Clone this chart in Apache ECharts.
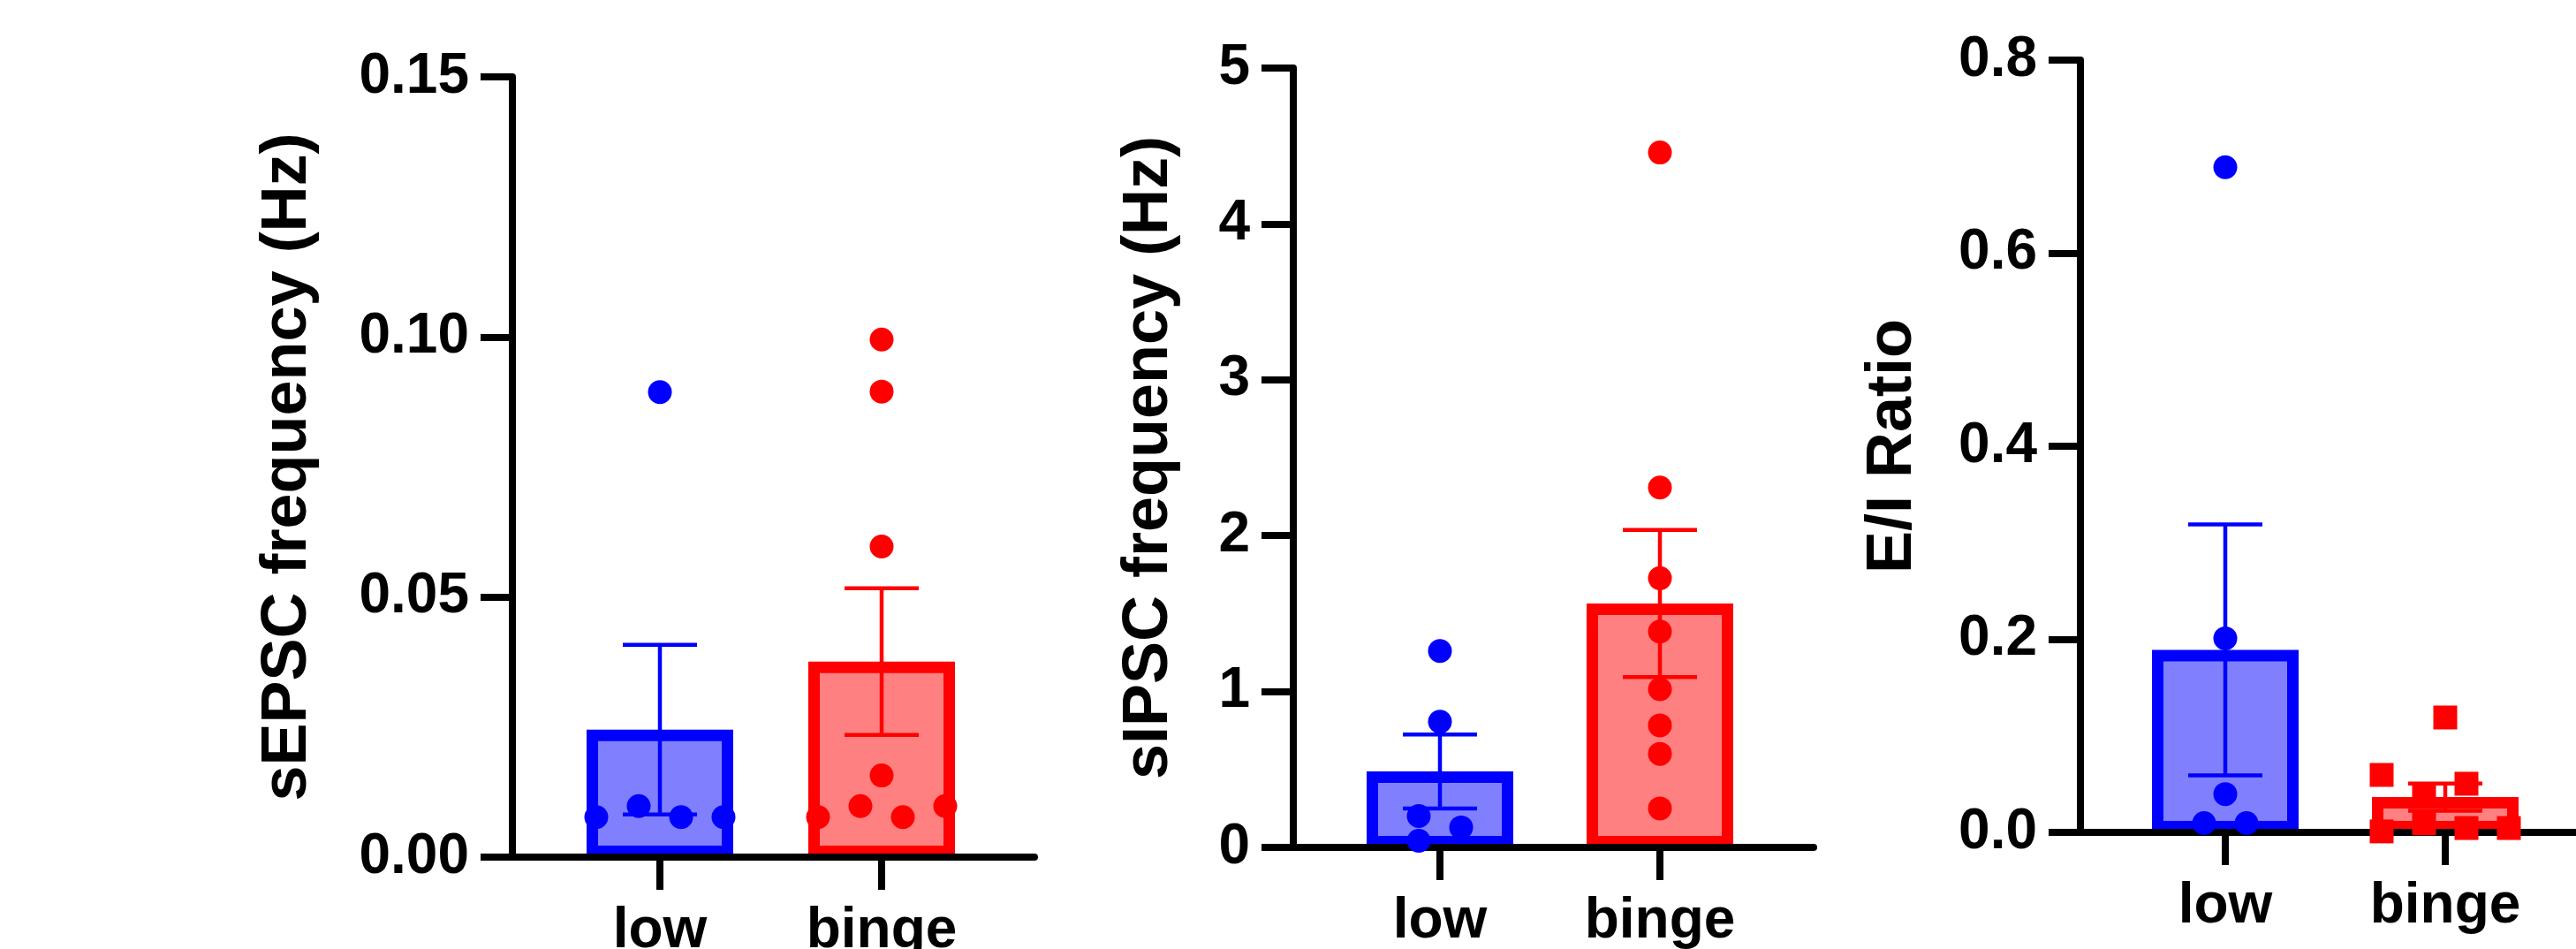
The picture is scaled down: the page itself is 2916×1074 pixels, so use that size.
<!DOCTYPE html>
<html>
<head>
<meta charset="utf-8">
<script src="https://cdn.jsdelivr.net/npm/echarts@6/dist/echarts.min.js"></script>
<style>
  html, body { margin: 0; padding: 0; background: #fff; }
  #chart { width: 2916px; height: 1074px; }
</style>
</head>
<body>
<div id="chart"></div>
<script>
const groups = ["low", "binge"];

// sEPSC frequency (Hz)
const sepscLow = [0.0894, 0.0077, 0.0098, 0.0077, 0.0077];
const sepscBinge = [0.0995, 0.0895, 0.0597, 0.0157, 0.0077, 0.0098, 0.0077, 0.0098];
const sepscMean = [0.0245, 0.0376];
const sepscSem = [0.0163, 0.0141];
const sepscTicks = [0, 0.05, 0.10, 0.15];

// sIPSC frequency (Hz)
const sipscLow = [1.26, 0.806, 0.201, 0.128, 0.0425];
const sipscBinge = [4.458, 2.309, 1.727, 1.385, 1.015, 0.783, 0.600, 0.250];
const sipscMean = [0.487, 1.565];
const sipscSem = [0.237, 0.472];
const sipscTicks = [0, 1, 2, 3, 4, 5];

// E/I ratio
const eiLow = [0.689, 0.201, 0.0397, 0.0096, 0.0096];
const eiBinge = [0.119, 0.0595, 0.038, 0.0504, 0.001, 0.0094, 0.0045, 0.0045];
const eiMean = [0.189, 0.0365];
const eiSem = [0.130, 0.014];
const eiTicks = [0, 0.2, 0.4, 0.6, 0.8];

const lines = ["#0000ff", "#ff0000"];
const fills = ["#8080ff", "#ff8080"];
const FONT = "'Liberation Sans', Arial, sans-serif";
const DOT = 27, STEP = 48, BAR_HALF = 83, BAR_LINE = 13, CAP_HALF = 42;

const panels = [
  { title: "sEPSC frequency (Hz)", pts: [sepscLow, sepscBinge], mean: sepscMean, sem: sepscSem, ticks: sepscTicks, digits: 2,
    left: 580, top: 87, width: 591, height: 883, first: 167, unit: 251, nameGap: 218, bingeSymbol: "circle" },
  { title: "sIPSC frequency (Hz)", pts: [sipscLow, sipscBinge], mean: sipscMean, sem: sipscSem, ticks: sipscTicks, digits: 0,
    left: 1464, top: 77, width: 589, height: 882, first: 166, unit: 249, nameGap: 127, bingeSymbol: "circle" },
  { title: "E/I Ratio", pts: [eiLow, eiBinge], mean: eiMean, sem: eiSem, ticks: eiTicks, digits: 1,
    left: 2355, top: 68, width: 561, height: 874, first: 164, unit: 249, nameGap: 176, bingeSymbol: "rect" }
];

// spread overlapping dots sideways, roughly like a column scatter
function swarm(vals, pxPerUnit) {
  const py = vals.map(v => v * pxPerUnit);
  const hit = (i, j) => Math.abs(py[i] - py[j]) < DOT;
  const order = vals.map((_, i) => i).sort((a, b) => py[a] - py[b]);
  const clusters = [];
  let cur = [order[0]];
  for (let k = 1; k < order.length; k++) {
    if (py[order[k]] - py[order[k - 1]] < 1.25 * DOT) cur.push(order[k]);
    else { clusters.push(cur); cur = [order[k]]; }
  }
  clusters.push(cur);
  const off = vals.map(() => 0);
  clusters.forEach(c => {
    const m = c.filter(i => c.some(j => j !== i && hit(i, j))).sort((a, b) => a - b);
    if (!m.length) return;
    for (let cols = 2; cols <= m.length; cols++) {
      const colOf = {};
      const ok = m.every(i => {
        for (let k = 0; k < cols; k++) {
          if (!m.some(j => colOf[j] === k && hit(i, j))) { colOf[i] = k; return true; }
        }
        return false;
      });
      if (ok) {
        m.forEach(i => { off[i] = (colOf[i] - (cols - 1) / 2) * STEP; });
        return;
      }
    }
  });
  return off;
}

function renderBar(params, api) {
  const top = api.coord([api.value(0), api.value(1)]);
  const base = api.coord([api.value(0), 0]);
  const i = params.dataIndex;
  const h = BAR_LINE / 2;
  return {
    type: "rect",
    shape: { x: top[0] - BAR_HALF + h, y: top[1] + h, width: 2 * BAR_HALF - BAR_LINE, height: base[1] - top[1] - BAR_LINE },
    style: { fill: fills[i], stroke: lines[i], lineWidth: BAR_LINE }
  };
}

function renderErr(params, api) {
  const x = api.value(0), m = api.value(1), s = api.value(2);
  const hi = api.coord([x, m + s]);
  const lo = api.coord([x, m - s]);
  const st = { stroke: lines[params.dataIndex], lineWidth: 4.5 };
  return {
    type: "group",
    children: [
      { type: "line", shape: { x1: hi[0], y1: hi[1], x2: lo[0], y2: lo[1] }, style: st },
      { type: "line", shape: { x1: hi[0] - CAP_HALF, y1: hi[1], x2: hi[0] + CAP_HALF, y2: hi[1] }, style: st },
      { type: "line", shape: { x1: lo[0] - CAP_HALF, y1: lo[1], x2: lo[0] + CAP_HALF, y2: lo[1] }, style: st }
    ]
  };
}

const grid = [], xAxis = [], yAxis = [], series = [];
panels.forEach((p, pi) => {
  const yMax = p.ticks[p.ticks.length - 1];
  grid.push({ left: p.left, top: p.top, width: p.width, height: p.height, containLabel: false, outerBoundsMode: "none" });
  xAxis.push({
    gridIndex: pi, type: "value", z: 3,
    min: -p.first / p.unit, max: (p.width - p.first) / p.unit,
    splitLine: { show: false },
    axisLine: { show: true, onZero: false, lineStyle: { color: "#000", width: 8 } },
    axisTick: { show: true, customValues: [0, 1], length: 37, lineStyle: { color: "#000", width: 8 } },
    axisLabel: { customValues: [0, 1], formatter: v => groups[v], margin: 52, color: "#000",
      fontSize: 64, fontWeight: "bold", fontFamily: FONT }
  });
  yAxis.push({
    gridIndex: pi, type: "value", z: 3,
    min: 0, max: yMax, interval: p.ticks[1] - p.ticks[0],
    name: p.title, nameLocation: "middle", nameGap: p.nameGap,
    nameTextStyle: { fontSize: 72, fontWeight: "bold", fontFamily: FONT, color: "#000" },
    splitLine: { show: false },
    axisLine: { show: true, onZero: false, lineStyle: { color: "#000", width: 8 } },
    axisTick: { show: true, length: 36, lineStyle: { color: "#000", width: 8 } },
    axisLabel: { formatter: v => v.toFixed(p.digits), margin: 49, color: "#000",
      fontSize: 64, fontWeight: "bold", fontFamily: FONT }
  });
  series.push({
    type: "custom", xAxisIndex: pi, yAxisIndex: pi, z: 1,
    renderItem: renderBar, encode: { x: 0, y: 1 },
    data: p.mean.map((m, gi) => [gi, m])
  });
  series.push({
    type: "custom", xAxisIndex: pi, yAxisIndex: pi, z: 4,
    renderItem: renderErr, encode: { x: 0, y: 1 },
    data: p.mean.map((m, gi) => [gi, m, p.sem[gi]])
  });
  p.pts.forEach((vals, gi) => {
    const off = swarm(vals, p.height / yMax);
    series.push({
      type: "scatter", xAxisIndex: pi, yAxisIndex: pi, z: 5,
      symbol: gi === 1 ? p.bingeSymbol : "circle", symbolSize: DOT,
      itemStyle: { color: lines[gi], opacity: 1 },
      data: vals.map((v, k) => ({ value: [gi, v], symbolOffset: [off[k], 0] }))
    });
  });
});

const chart = echarts.init(document.getElementById("chart"));
chart.setOption({ animation: false, backgroundColor: "#fff", grid, xAxis, yAxis, series });
</script>
</body>
</html>
